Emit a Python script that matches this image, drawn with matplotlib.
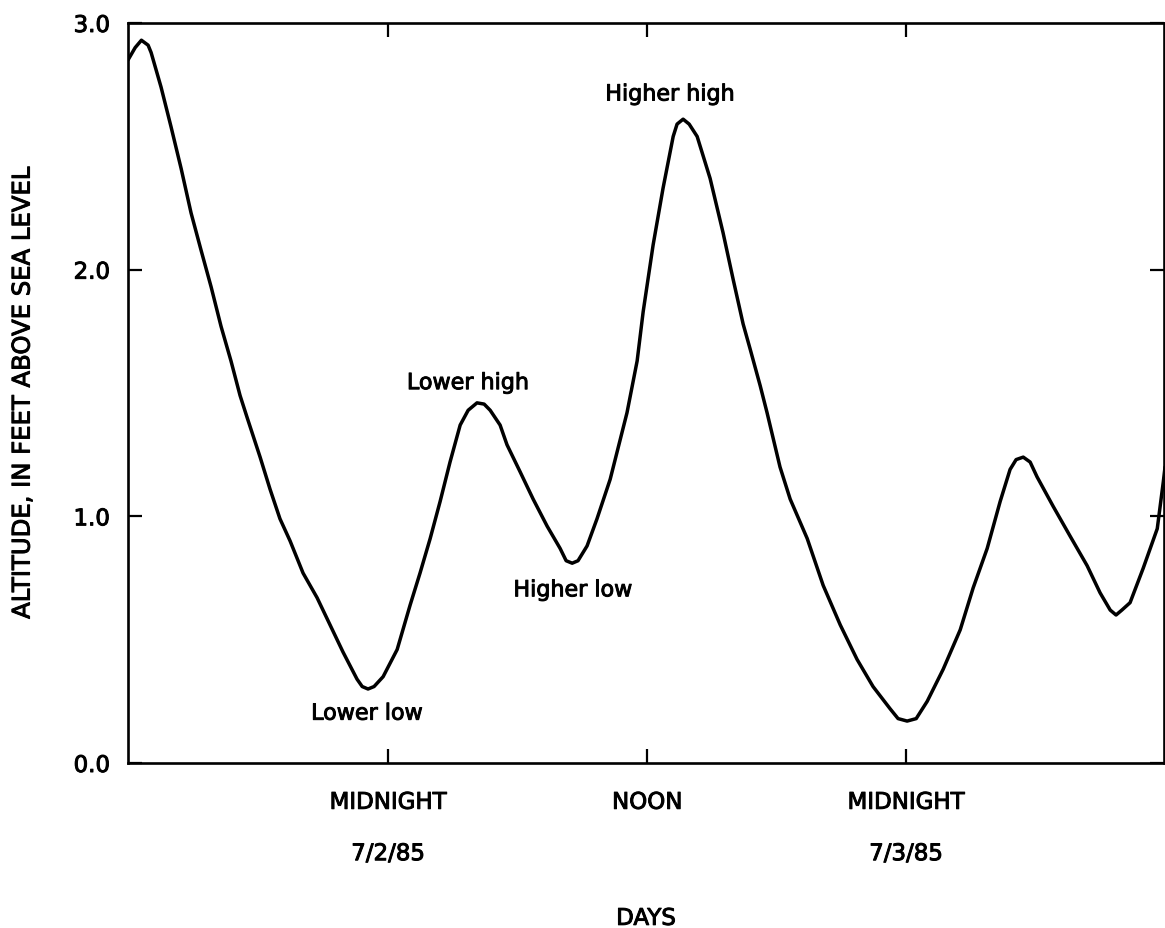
import matplotlib.pyplot as plt
import matplotlib.patheffects as pe

# hourly tide record, hours counted from midnight 7/2/85
hours = [-12.05, -11.72, -11.43, -11.12, -10.98, -10.52, -10.06, -9.59, -9.13,
         -8.67, -8.20, -7.74, -7.28, -6.86, -6.53, -5.93, -5.47, -5.01, -4.54,
         -3.94, -3.29, -2.69, -2.09, -1.44, -1.20, -0.93, -0.65, -0.23, 0.42,
         1.02, 1.48, 1.95, 2.41, 2.87, 3.34, 3.71, 4.12, 4.45, 4.73, 5.19, 5.51,
         6.12, 6.72, 7.37, 7.97, 8.25, 8.53, 8.80, 9.22, 9.68, 10.29, 11.07,
         11.54, 11.82, 12.28, 12.74, 13.21, 13.39, 13.67, 13.95, 14.32, 14.92,
         15.52, 15.99, 16.45, 16.77, 17.24, 17.56, 18.16, 18.63, 19.42, 20.16,
         20.95, 21.73, 22.47, 23.26, 23.63, 24.05, 24.47, 24.98, 25.72, 26.51,
         27.11, 27.76, 28.36, 28.82, 29.10, 29.43, 29.75, 30.07, 30.82, 31.60,
         32.39, 32.99, 33.46, 33.73, 34.00, 34.38, 34.99, 35.64, 35.92, 36.00]
altitude = [2.85, 2.90, 2.93, 2.91, 2.88, 2.74, 2.58, 2.41, 2.23,
            2.08, 1.93, 1.77, 1.63, 1.49, 1.40, 1.24, 1.11, 0.99, 0.90,
            0.77, 0.67, 0.56, 0.45, 0.34, 0.31, 0.30, 0.31, 0.35, 0.46,
            0.64, 0.77, 0.91, 1.06, 1.22, 1.37, 1.43, 1.46, 1.455, 1.43, 1.37, 1.29,
            1.18, 1.07, 0.96, 0.87, 0.82, 0.81, 0.82, 0.88, 0.99, 1.15, 1.42,
            1.63, 1.83, 2.10, 2.33, 2.54, 2.59, 2.61, 2.59, 2.54, 2.37,
            2.15, 1.96, 1.78, 1.68, 1.53, 1.42, 1.20, 1.07, 0.91, 0.72,
            0.56, 0.42, 0.31, 0.22, 0.18, 0.17, 0.18, 0.25, 0.38, 0.54,
            0.71, 0.87, 1.06, 1.19, 1.23, 1.24, 1.22, 1.16, 1.04, 0.92,
            0.80, 0.69, 0.62, 0.60, 0.62, 0.65, 0.79, 0.95, 1.14, 1.20]

tick_hours = [0, 12, 24]
tick_names = ["MIDNIGHT\n\n7/2/85", "NOON", "MIDNIGHT\n\n7/3/85"]
y_ticks = [0.0, 1.0, 2.0, 3.0]

# labels for the four kinds of tide: (text, hour, altitude)
notes = [("Lower low", -0.97, 0.20),
         ("Lower high", 3.71, 1.54),
         ("Higher low", 8.57, 0.70),
         ("Higher high", 13.07, 2.71)]

# slightly heavier lettering
heavy = [pe.withStroke(linewidth=0.7, foreground="black")]

fig = plt.figure(figsize=(11.65, 9.29), dpi=100)
ax = fig.add_axes([0.1099, 0.1776, 0.8892, 0.7966])

ax.plot(hours, altitude, color="black", lw=2.5, solid_joinstyle="round",
        solid_capstyle="round")

ax.set_xlim(-12.05, 35.95)
ax.set_ylim(0, 3.0)

ax.set_xticks(tick_hours)
ax.set_xticklabels(tick_names, fontsize=16.5, linespacing=1.15)
ax.set_yticks(y_ticks)
ax.set_yticklabels([f"{v:.1f}" for v in y_ticks], fontsize=16.5)

ax.tick_params(axis="both", direction="in", length=10, width=1.6,
               top=True, right=True, color="black")
ax.tick_params(axis="x", pad=20)
ax.tick_params(axis="y", pad=13)

for s in ax.spines.values():
    s.set_linewidth(1.9)

ax.set_xlabel("DAYS", fontsize=16.5, labelpad=30)
ax.set_ylabel("ALTITUDE, IN FEET ABOVE SEA LEVEL", fontsize=17.5, labelpad=28)

for lab in ax.get_xticklabels() + ax.get_yticklabels():
    lab.set_path_effects(heavy)
ax.xaxis.label.set_path_effects(heavy)
ax.yaxis.label.set_path_effects(heavy)

for txt, h, a in notes:
    ax.text(h, a, txt, fontsize=16, ha="center", va="center",
            path_effects=heavy)

fig.savefig("out.png", dpi=100, facecolor="white")
